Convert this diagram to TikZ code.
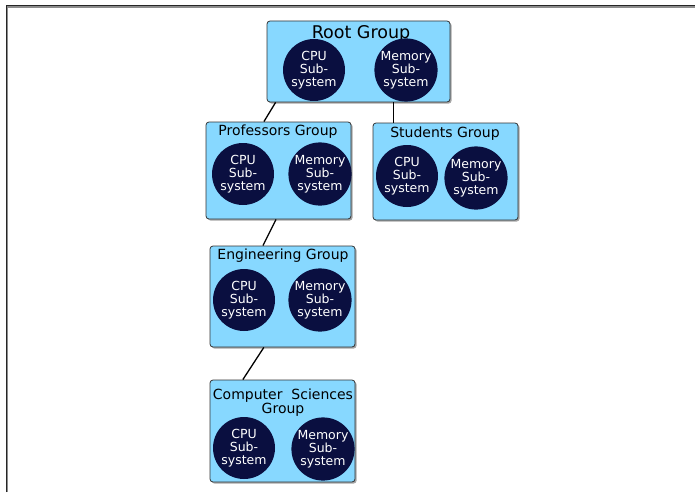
\documentclass[tikz,border=0pt]{standalone}
\usepackage{fontspec}
\setmainfont{DejaVu Sans}
\usetikzlibrary{shadows,calc}
\definecolor{groupfill}{HTML}{87D8FF}
\definecolor{subfill}{HTML}{0A0F40}
\tikzset{
  groupbox/.style={draw=black!80, line width=0.8pt, fill=groupfill, rounded corners=3pt,
    inner sep=0pt, drop shadow={shadow xshift=1.6pt, shadow yshift=-1.6pt, fill=black!35, opacity=1}},
  subsys/.style={circle, fill=subfill, text=white, minimum size=62pt, inner sep=0pt,
    align=center, font=\fontsize{12.5}{13}\selectfont},
  grouptitle/.style={inner sep=0pt, align=center, font=\fontsize{14}{14}\selectfont},
  link/.style={line width=1.3pt, black}
}
\begin{document}
\begin{tikzpicture}[x=1pt,y=-1pt]
\useasboundingbox (0,0) rectangle (695,492);
% outer frame
\draw[black!45, line width=1.6pt] (7.2,492) -- (7.2,7.2) -- (695,7.2);
\draw[black!85, line width=1pt] (6,492) -- (6,6) -- (695,6);

% groups
\node[groupbox, minimum width=183pt, minimum height=81pt] (root) at (358.5,61.5) {};
\node[groupbox, minimum width=145pt, minimum height=97pt] (prof) at (278.5,170.5) {};
\node[groupbox, minimum width=145pt, minimum height=97pt] (stud) at (445.5,171.5) {};
\node[groupbox, minimum width=145pt, minimum height=101pt] (eng) at (282.5,296.5) {};
\node[groupbox, minimum width=145pt, minimum height=102pt] (cs) at (282.5,431) {};

% titles
\node[inner sep=0pt, font=\fontsize{17.5}{18}\selectfont] (roott) at (361,33.5) {Root Group};
\node[grouptitle] (proft) at (278,131.5) {Professors Group};
\node[grouptitle] (studt) at (445,133.5) {Students Group};
\node[grouptitle] (engt) at (283,255.5) {Engineering Group};
\node[grouptitle] (cst) at (283,403) {Computer\ \ Sciences\\Group};

% subsystems
\node[subsys] (rootcpu) at (314,70) {CPU\\Sub-\\system};
\node[subsys] (rootmem) at (406,70) {Memory\\Sub-\\system};
\node[subsys] (profcpu) at (243,174) {CPU\\Sub-\\system};
\node[subsys] (profmem) at (320,174) {Memory\\Sub-\\system};
\node[subsys] (studcpu) at (407,176) {CPU\\Sub-\\system};
\node[subsys] (studmem) at (476,178) {Memory\\Sub-\\system};
\node[subsys] (engcpu) at (244,300) {CPU\\Sub-\\system};
\node[subsys] (engmem) at (320,300) {Memory\\Sub-\\system};
\node[subsys] (cscpu) at (244,448) {CPU\\Sub-\\system};
\node[subsys] (csmem) at (323,449) {Memory\\Sub-\\system};

% hierarchy links
\coordinate (studtop) at ($(stud.north west)!0.145!(stud.north east)$);
\draw[link] ($(root.south west)!0.049!(root.south east)$) -- ($(prof.north west)!0.40!(prof.north east)$);
\draw[link] (studtop |- root.south) -- (studtop);
\draw[link] ($(prof.south west)!0.483!(prof.south east)$) -- ($(eng.north west)!0.366!(eng.north east)$);
\draw[link] ($(eng.south west)!0.372!(eng.south east)$) -- ($(cs.north west)!0.228!(cs.north east)$);
\end{tikzpicture}
\end{document}
